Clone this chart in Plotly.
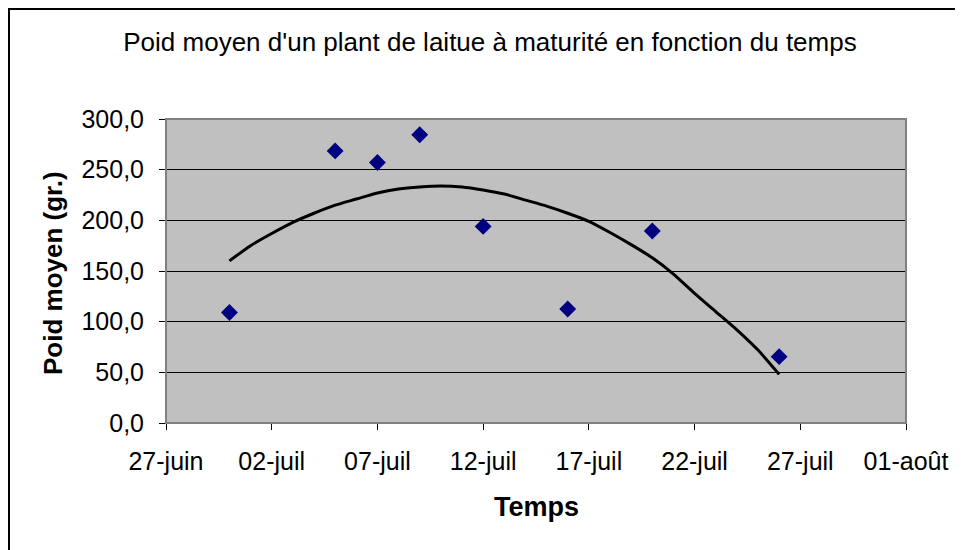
import plotly.graph_objects as go

# Mesures : poids moyen d'un plant de laitue (gr.)
dates = ["2007-06-30", "2007-07-05", "2007-07-07", "2007-07-09",
         "2007-07-12", "2007-07-16", "2007-07-20", "2007-07-26"]
poids = [109.0, 268.5, 257.0, 284.5, 194.0, 112.5, 189.5, 65.5]

# Courbe de tendance (un point par jour)
trend_dates = ["2007-06-30", "2007-07-01", "2007-07-02", "2007-07-03", "2007-07-04",
               "2007-07-05", "2007-07-06", "2007-07-07", "2007-07-08", "2007-07-09",
               "2007-07-10", "2007-07-11", "2007-07-12", "2007-07-13", "2007-07-14",
               "2007-07-15", "2007-07-16", "2007-07-17", "2007-07-18", "2007-07-19",
               "2007-07-20", "2007-07-21", "2007-07-22", "2007-07-23", "2007-07-24",
               "2007-07-25", "2007-07-26"]
trend_vals = [160, 175, 187, 198, 207, 215, 221, 227, 231, 233,
              234, 233, 230, 226, 220, 214, 207, 199, 188, 176,
              163, 147, 128, 110, 92, 72, 48]

x_tickvals = ["2007-06-27", "2007-07-02", "2007-07-07", "2007-07-12",
              "2007-07-17", "2007-07-22", "2007-07-27", "2007-08-01"]
x_ticktext = ["27-juin", "02-juil", "07-juil", "12-juil",
              "17-juil", "22-juil", "27-juil", "01-août"]
y_tickvals = [0, 50, 100, 150, 200, 250, 300]
y_ticktext = ["0,0", "50,0", "100,0", "150,0", "200,0", "250,0", "300,0"]

FONT = "Liberation Sans, Arial, sans-serif"

# zone de tracé (coordonnées de la figure)
L, T, W, H = 158, 111, 740, 304
B = T + H

fig = go.Figure()
fig.add_trace(go.Scatter(
    x=trend_dates, y=trend_vals, mode="lines",
    line=dict(color="black", width=3, shape="spline", smoothing=0.6),
    showlegend=False,
))
fig.add_trace(go.Scatter(
    x=dates, y=poids, mode="markers",
    marker=dict(symbol="diamond", color="#000080", size=13),
    showlegend=False,
))

fig.update_layout(
    width=963, height=550,
    margin=dict(l=L, r=963 - L - W, t=T, b=550 - B),
    paper_bgcolor="white", plot_bgcolor="#c0c0c0",
    font=dict(family=FONT, color="black", size=25),
    title=dict(
        text="Poid moyen d'un plant de laitue à maturité en fonction du temps",
        x=482 / 963, xanchor="center", y=1 - 34 / 550, yanchor="middle",
        font=dict(size=26),
    ),
)
fig.update_xaxes(
    type="date", range=["2007-06-27", "2007-08-01"],
    tickvals=x_tickvals, ticktext=x_ticktext,
    ticks="outside", ticklen=6, tickcolor="black", ticklabelstandoff=10,
    showline=True, linecolor="black", linewidth=1,
    showgrid=False, zeroline=False, mirror=False,
)
fig.update_yaxes(
    range=[0, 300], tickvals=y_tickvals, ticktext=y_ticktext,
    ticks="outside", ticklen=6, tickcolor="black", ticklabelstandoff=10,
    showline=True, linecolor="#404040", linewidth=1,
    showgrid=True, gridcolor="black", gridwidth=1, zeroline=False,
)

# bordure grise du cadre de tracé (haut et droite)
fig.add_shape(type="rect", xref="paper", yref="paper", x0=0, y0=0, x1=1, y1=1,
              line=dict(color="#808080", width=2), layer="above")
# cadre noir autour du graphique
fig.add_shape(type="rect", xref="paper", yref="paper",
              x0=(1 - L) / W, y0=(B - 570) / H,
              x1=(985 - L) / W, y1=(B - 1) / H,
              line=dict(color="black", width=2))

fig.add_annotation(text="<b>Temps</b>", xref="paper", yref="paper",
                   x=(528 - L) / W, y=(B - 499) / H,
                   xanchor="center", yanchor="middle",
                   showarrow=False, font=dict(size=27))
fig.add_annotation(text="<b>Poid moyen (gr.)</b>", xref="paper", yref="paper",
                   x=(45 - L) / W, y=(B - 265) / H, textangle=-90,
                   xanchor="center", yanchor="middle",
                   showarrow=False, font=dict(size=26))

fig.write_html("out.html")
